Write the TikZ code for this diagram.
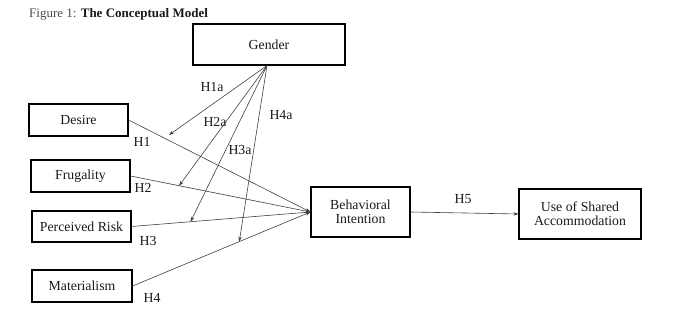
\documentclass[tikz,border=0pt]{standalone}
\usepackage{fontspec}
\setmainfont{Liberation Serif}
\usetikzlibrary{arrows.meta}
\begin{document}
\begin{tikzpicture}[x=1pt,y=-1pt,
  box/.style={draw=black,line width=1.1pt,inner sep=0pt,align=center,
    font=\fontsize{13.8}{15}\selectfont,text=black!90},
  conn/.style={draw=black!75,line width=0.6pt,-{Stealth[length=5pt,width=3.5pt]}},
  lbl/.style={font=\fontsize{13.8}{15}\selectfont,text=black!90,inner sep=0pt}]
\useasboundingbox (0,0) rectangle (680,321);
\node[anchor=base west,inner sep=0pt,font=\fontsize{13}{14}\selectfont,text=black!70] (title) at (29,18) {Figure 1: \textbf{\color{black!90}The Conceptual Model}};
\node[box,minimum width=152pt,minimum height=41pt] (Gender) at (269,44.5) {Gender};
\node[box,minimum width=99pt,minimum height=32pt] (Desire) at (78.5,120) {Desire};
\node[box,minimum width=99pt,minimum height=32pt] (Frug) at (80.5,176) {Frugality};
\node[box,minimum width=99pt,minimum height=31pt] (Risk) at (81.5,226.5) {Perceived Risk};
\node[box,minimum width=100pt,minimum height=32pt] (Mat) at (82,286) {Materialism};
\node[box,minimum width=99pt,minimum height=50pt] (BI) at (360.5,212) {Behavioral\\[-1pt]Intention};
\node[box,minimum width=122pt,minimum height=50pt] (UA) at (580,214) {Use of Shared\\[-1pt]Accommodation};
% main paths
\draw[conn] (Desire.east) -- (BI.west);
\draw[conn] (Frug.east) -- (BI.west);
\draw[conn] (Risk.east) -- (BI.west);
\draw[conn] (Mat.east) -- (BI.west);
\draw[conn] (BI.east) -- (UA.west);
% moderation targets
\coordinate (g) at ([xshift=-2pt]Gender.south);
\coordinate (m1) at (169,135);
\path (Frug.east) -- (BI.west) coordinate[pos=0.27] (m2);
\path (Risk.east) -- (BI.west) coordinate[pos=0.33] (m3);
\path (Mat.east) -- (BI.west) coordinate[pos=0.60] (m4);
\draw[conn] (g) -- (m1);
\draw[conn] (g) -- (m2);
\draw[conn] (g) -- (m3);
\draw[conn] (g) -- (m4);
% labels
\node[lbl] (l1a) at (212,87) {H1a};
\node[lbl] (l2a) at (215,122) {H2a};
\node[lbl] (l3a) at (240,150) {H3a};
\node[lbl] (l4a) at (281,115) {H4a};
\node[lbl] (l1) at (142,142) {H1};
\node[lbl] (l2) at (143,188) {H2};
\node[lbl] (l3) at (148,241) {H3};
\node[lbl] (l4) at (152,298) {H4};
\node[lbl] (l5) at (463,199) {H5};
\end{tikzpicture}
\end{document}
